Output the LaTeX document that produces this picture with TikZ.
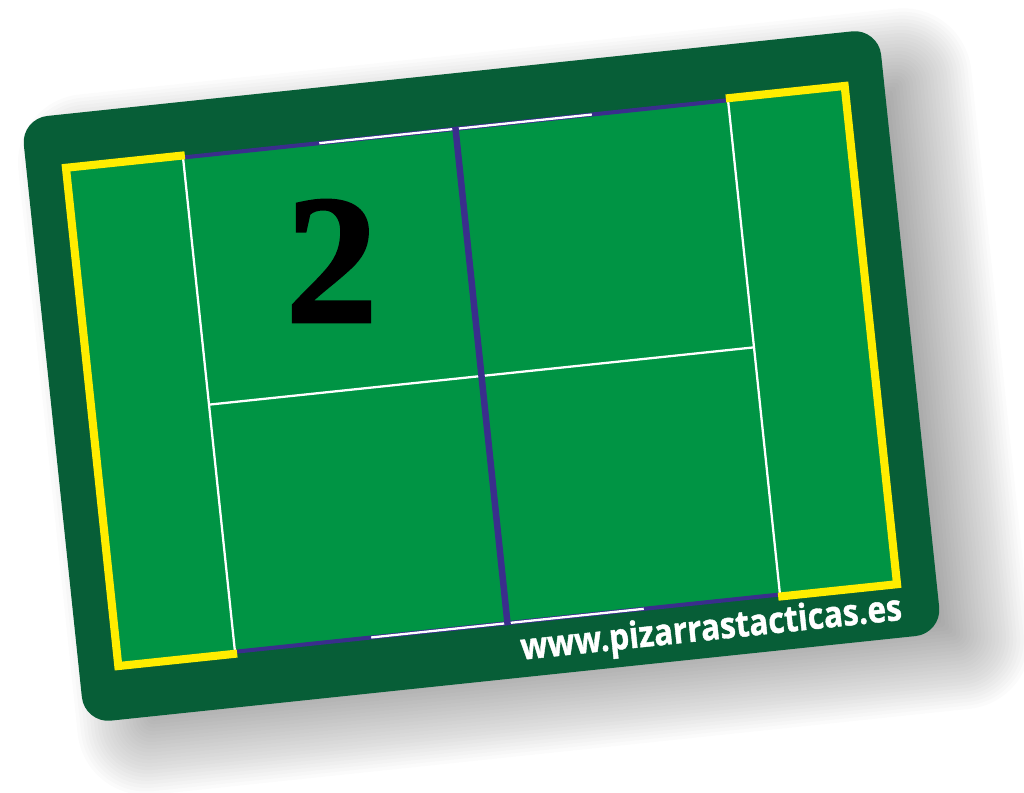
\documentclass[tikz,border=0pt]{standalone}
\usepackage{fontspec}
\setmainfont{Liberation Serif}
\newfontfamily\numfont[BoldFeatures={FakeBold=1.5}]{Liberation Serif}
\newfontfamily\webfont[BoldFeatures={FakeBold=1.2}]{Open Sans}
\usetikzlibrary{calc}
\definecolor{cardgreen}{HTML}{075E37}
\definecolor{courtgreen}{HTML}{009444}
\definecolor{netblue}{HTML}{3A2E8C}
\definecolor{lineyellow}{HTML}{FFED00}

\begin{document}
\begin{tikzpicture}[x=0.02cm, y=0.02cm,
    yellowline/.style={lineyellow, line width=4.6pt, line join=miter},
    whiteline/.style={white, line width=1.3pt},
    edgeline/.style={netblue, line width=2.3pt},
    netline/.style={netblue, line width=3.7pt}]
  \useasboundingbox (0,0) rectangle (1024,792);

  % tilted card
  \begin{scope}[shift={(481.5,416)}, rotate=6]
    % soft shadow
    \foreach \k in {1,...,28} {
      \pgfmathsetmacro\e{-50+3.5*\k}
      \pgfmathsetmacro\r{max(2,15+0.5*\e)}
      \fill[black, opacity=0.014, rounded corners=\r pt]
        (-431+40-\e, -304-30-\e) rectangle (431+40+\e, 304-30+\e);
    }
    \fill[cardgreen, rounded corners=15pt] (-431,-304) rectangle (431,304);
    \fill[courtgreen] (-391.5,-248.5) rectangle (391.5,248.5);

    % side lines and service line
    \draw[edgeline] (-274,248.5) -- (274,248.5);
    \draw[edgeline] (-274,-248.5) -- (274,-248.5);
    \draw[whiteline] (-137,248.5) -- (137,248.5);
    \draw[whiteline] (-137,-248.5) -- (137,-248.5);
    \draw[whiteline] (-274,248) -- (-274,-248);
    \draw[whiteline] (274,248) -- (274,-248);
    \draw[whiteline] (-274,0) -- (274,0);
    \draw[netline] (0,250.5) -- (0,-250.5);

    % end zones
    \draw[yellowline] (-272,250.5) -- (-391.5,250.5) -- (-391.5,-250.5) -- (-272,-250.5);
    \draw[yellowline] (272,250.5) -- (391.5,250.5) -- (391.5,-250.5) -- (272,-250.5);

    \coordinate (quarter) at (-137,130);
    \node[rotate=6, text=white, font=\webfont\bfseries\fontsize{18}{20}\selectfont]
      (web) at (202,-277) {\scalebox{1}[1.15]{www.pizarrastacticas.es}};
  \end{scope}

  \node[font=\numfont\bfseries\fontsize{105}{110}\selectfont] (number) at (quarter) {2};
\end{tikzpicture}
\end{document}
